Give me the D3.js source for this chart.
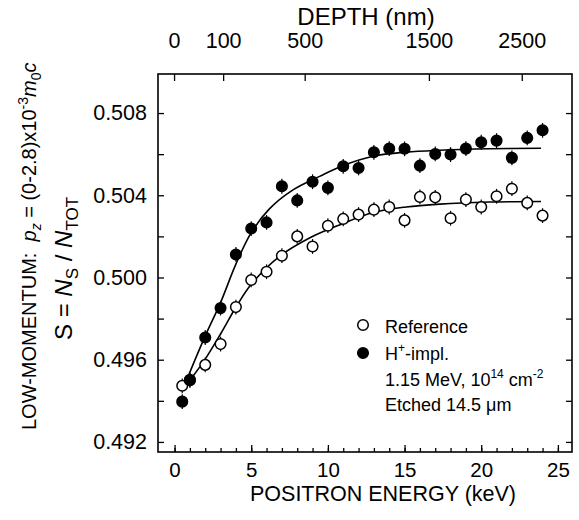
<!DOCTYPE html>
<html>
<head>
<meta charset="utf-8">
<script src="https://cdn.jsdelivr.net/npm/d3@7"></script>
<style>
  html, body { margin: 0; padding: 0; background: #fff; }
  svg { display: block; }
  text { font-family: "Liberation Sans", Arial, Helvetica, sans-serif; fill: #000; }
</style>
</head>
<body>
<svg id="chart" width="579" height="520"></svg>
<script>
// ---------------- data ----------------
const energies = [0.5, 1, 2, 3, 4, 5, 6, 7, 8, 9, 10, 11, 12, 13, 14, 15, 16, 17, 18, 19, 20, 21, 22, 23, 24];
const sReference = [0.49473, 0.49500, 0.49575, 0.49676, 0.49856, 0.49988, 0.50028, 0.50106, 0.50200, 0.50151,
                    0.50252, 0.50285, 0.50306, 0.50330, 0.50343, 0.50278, 0.50392, 0.50390, 0.50288, 0.50379,
                    0.50343, 0.50395, 0.50432, 0.50363, 0.50301];
const sImplanted = [0.49396, 0.49502, 0.49708, 0.49851, 0.50112, 0.50238, 0.50268, 0.50444, 0.50375, 0.50466,
                    0.50436, 0.50541, 0.50533, 0.50609, 0.50627, 0.50626, 0.50544, 0.50601, 0.50598, 0.50627,
                    0.50658, 0.50666, 0.50582, 0.50679, 0.50716];
const sError = 0.00036;

// fitted curves
const fitRefEnergy = [1.1, 2, 3, 4, 5, 6.85, 8.8, 10.8, 12.95, 15.1, 17.3, 20.5, 23.9];
const fitRefS      = [0.49510, 0.49603, 0.49725, 0.49855, 0.49967, 0.50103, 0.50192, 0.50257, 0.50316, 0.50343, 0.50357, 0.50367, 0.50370];
const fitImpEnergy = [0.66, 2, 3, 4, 5, 6.2, 7.7, 9.46, 11.0, 12.95, 15.1, 17.3, 20.5, 23.9];
const fitImpS      = [0.49478, 0.49716, 0.49878, 0.50065, 0.50218, 0.50335, 0.50425, 0.50492, 0.50545, 0.50590, 0.50610, 0.50619, 0.50626, 0.50629];

// axes
const xMajorTicks = [0, 5, 10, 15, 20, 25];
const xMinorTicks = d3.range(0, 26, 1);
const yMajorTicks = [0.492, 0.496, 0.500, 0.504, 0.508];
const yAllTicks = [0.492, 0.494, 0.496, 0.498, 0.500, 0.502, 0.504, 0.506, 0.508];
const depthTicks = [0, 100, 500, 1500, 2500];

const legendLabels = ["Reference", "H+-impl."];

// ---------------- layout ----------------
const L = 158, R = 572, T = 74, B = 452;
const svg = d3.select("#chart");

const x = d3.scaleLinear().domain([-1.08, 25.92]).range([L, R]);
const y = d3.scaleLinear().domain([0.49151, 0.5099]).range([B, T]);
// depth (nm) -> positron energy (keV), Makhovian-type profile
const depthToE = d => Math.pow(d / 14.77, 1 / 1.644);

// frame
svg.append("rect").attr("x", L).attr("y", T).attr("width", R - L).attr("height", B - T)
  .attr("fill", "none").attr("stroke", "#000").attr("stroke-width", 1.6);

function styleAxis(g) {
  g.select(".domain").remove();
  g.selectAll(".tick line").attr("stroke", "#000").attr("stroke-width", 1.3);
  g.selectAll(".tick text").attr("font-family", "Liberation Sans, Arial, sans-serif").attr("fill", "#000");
}

// left axis
svg.append("g").attr("transform", `translate(${L},0)`)
  .call(d3.axisLeft(y).tickValues(yAllTicks).tickSize(-6).tickPadding(11)
    .tickFormat(d => yMajorTicks.some(v => Math.abs(v - d) < 1e-9) ? d3.format(".3f")(d) : ""))
  .call(styleAxis)
  .call(g => g.selectAll(".tick text").attr("font-size", 21.5));

// right axis
svg.append("g").attr("transform", `translate(${R},0)`)
  .call(d3.axisRight(y).tickValues(yAllTicks).tickSize(-6).tickFormat(""))
  .call(styleAxis);

// bottom axis minor
svg.append("g").attr("transform", `translate(0,${B})`)
  .call(d3.axisBottom(x).tickValues(xMinorTicks).tickSize(-4).tickFormat(""))
  .call(styleAxis);
// bottom axis major
svg.append("g").attr("transform", `translate(0,${B})`)
  .call(d3.axisBottom(x).tickValues(xMajorTicks).tickSize(-7).tickPadding(10).tickFormat(d3.format("d")))
  .call(styleAxis)
  .call(g => g.selectAll(".tick text").attr("font-size", 20.5));

// top axis (depth)
const xDepth = d => x(depthToE(d));
const topG = svg.append("g").attr("transform", `translate(0,${T})`);
topG.selectAll("line.dt").data(depthTicks).enter().append("line")
  .attr("x1", d => xDepth(d)).attr("x2", d => xDepth(d)).attr("y1", 0).attr("y2", 7)
  .attr("stroke", "#000").attr("stroke-width", 1.3);
topG.selectAll("text.dt").data(depthTicks).enter().append("text")
  .attr("x", d => xDepth(d)).attr("y", -26).attr("text-anchor", "middle")
  .attr("font-size", 21.5).text(d => d);

// titles
svg.append("text").attr("x", 366).attr("y", 25).attr("text-anchor", "middle")
  .attr("font-size", 24).text("DEPTH (nm)");
svg.append("text").attr("x", 383).attr("y", 501).attr("text-anchor", "middle")
  .attr("font-size", 21.5).text("POSITRON ENERGY (keV)");

// y label line 1
const yl1 = svg.append("text").attr("transform", "translate(36,430) rotate(-90)")
  .attr("font-size", 20).attr("text-anchor", "start");
yl1.append("tspan").text("LOW-MOMENTUM:\u00a0\u00a0");
yl1.append("tspan").attr("font-style", "italic").text("p");
yl1.append("tspan").attr("font-size", 14).attr("font-style", "italic").attr("dy", 5).text("z");
yl1.append("tspan").attr("dy", -5).text(" = (0-2.8)x10");
yl1.append("tspan").attr("font-size", 14).attr("dy", -8).text("-3");
yl1.append("tspan").attr("font-style", "italic").attr("dy", 8).text("m");
yl1.append("tspan").attr("font-size", 14).attr("dy", 5).text("0");
yl1.append("tspan").attr("font-style", "italic").attr("dy", -5).text("c");

// y label line 2
const yl2 = svg.append("text").attr("transform", "translate(72,340) rotate(-90)")
  .attr("font-size", 24).attr("text-anchor", "start");
yl2.append("tspan").text("S\u00a0=\u00a0");
yl2.append("tspan").attr("font-style", "italic").text("N");
yl2.append("tspan").attr("font-size", 17).attr("dy", 6).text("S");
yl2.append("tspan").attr("dy", -6).text("\u00a0/\u00a0");
yl2.append("tspan").attr("font-style", "italic").text("N");
yl2.append("tspan").attr("font-size", 17).attr("dy", 6).text("TOT");

// fitted curves
const line = d3.line().x(d => x(d[0])).y(d => y(d[1])).curve(d3.curveCatmullRom.alpha(0.5));
svg.append("path").datum(fitRefEnergy.map((e, i) => [e, fitRefS[i]]))
  .attr("d", line).attr("fill", "none").attr("stroke", "#000").attr("stroke-width", 1.6);
svg.append("path").datum(fitImpEnergy.map((e, i) => [e, fitImpS[i]]))
  .attr("d", line).attr("fill", "none").attr("stroke", "#000").attr("stroke-width", 1.6);

// points
function drawSeries(vals, filled) {
  const g = svg.append("g");
  const data = energies.map((e, i) => ({ e, v: vals[i] }));
  g.selectAll("line").data(data).enter().append("line")
    .attr("x1", d => x(d.e)).attr("x2", d => x(d.e))
    .attr("y1", d => y(d.v - sError)).attr("y2", d => y(d.v + sError))
    .attr("stroke", "#000").attr("stroke-width", 1.2);
  g.selectAll("circle").data(data).enter().append("circle")
    .attr("cx", d => x(d.e)).attr("cy", d => y(d.v)).attr("r", 5.3)
    .attr("fill", filled ? "#000" : "#fff").attr("stroke", "#000").attr("stroke-width", 1.5);
}
drawSeries(sReference, false);
drawSeries(sImplanted, true);

// legend
const lg = svg.append("g");
lg.append("circle").attr("cx", 363).attr("cy", 325).attr("r", 5.3).attr("fill", "#fff").attr("stroke", "#000").attr("stroke-width", 1.5);
lg.append("circle").attr("cx", 363).attr("cy", 353).attr("r", 5.3).attr("fill", "#000").attr("stroke", "#000").attr("stroke-width", 1.5);
lg.append("text").attr("x", 385).attr("y", 333).attr("font-size", 18).text(legendLabels[0]);
const t2 = lg.append("text").attr("x", 385).attr("y", 360).attr("font-size", 18);
t2.append("tspan").text("H");
t2.append("tspan").attr("font-size", 12).attr("dy", -8).text("+");
t2.append("tspan").attr("dy", 8).text("-impl.");
const t3 = lg.append("text").attr("x", 385).attr("y", 386).attr("font-size", 18);
t3.append("tspan").text("1.15 MeV, 10");
t3.append("tspan").attr("font-size", 12).attr("dy", -8).text("14");
t3.append("tspan").attr("dy", 8).text(" cm");
t3.append("tspan").attr("font-size", 12).attr("dy", -8).text("-2");
lg.append("text").attr("x", 385).attr("y", 411).attr("font-size", 18).text("Etched 14.5 \u03bcm");
</script>
</body>
</html>
